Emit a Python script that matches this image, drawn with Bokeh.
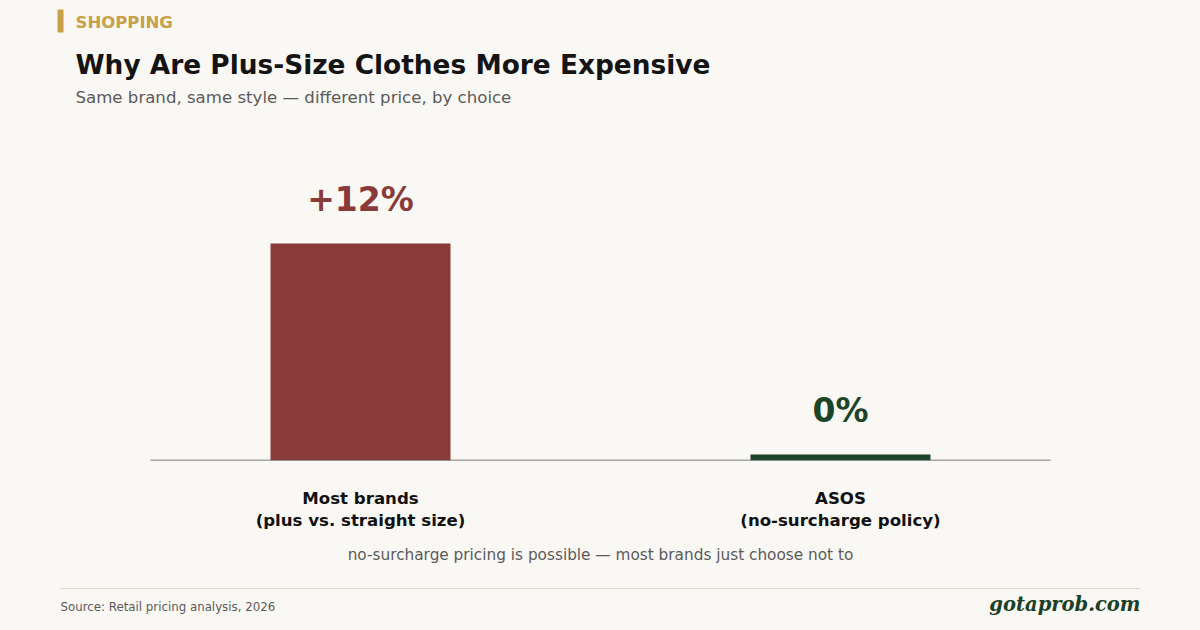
from bokeh.plotting import figure
from bokeh.layouts import column
from bokeh.models import Range1d, FixedTicker
from bokeh.core.properties import value
from bokeh.embed import file_html
from bokeh.resources import INLINE

# ---- data ----
categories = ["Most brands\n(plus vs. straight size)", "ASOS\n(no-surcharge policy)"]
surcharge_pct = [12, 0]
value_labels = ["+12%", "0%"]
bar_colors = ["#8b3a3a", "#1c4428"]
MIN_VISIBLE = 0.33  # tiny stub so a 0% bar is still visible

BG = "#faf8f4"
FONT = value("DejaVu Sans")
W = 1200


def blank(height):
    f = figure(width=W, height=height, output_backend="svg", toolbar_location=None,
               x_range=Range1d(0, W), y_range=Range1d(height, 0),
               x_axis_type=None, y_axis_type=None, min_border=0)
    f.background_fill_color = BG
    f.border_fill_color = BG
    f.outline_line_color = None
    f.xgrid.visible = False
    f.ygrid.visible = False
    return f


def txt(f, s, x, y, size, color, style="normal", align="left", font=FONT):
    f.text(x=[x], y=[y], text=[s], text_font=font, text_font_size=size,
           text_color=color, text_font_style=style, text_align=align,
           text_baseline="middle")


# ---- header ----
header = blank(130)
header.quad(left=[57], right=[63], top=[9], bottom=[32], color="#c9a04a", line_color=None)
txt(header, "SHOPPING", 75, 22, "16.5px", "#c9a04a", "bold")
txt(header, "Why Are Plus-Size Clothes More Expensive", 75, 64, "26.4px", "#141414", "bold")
txt(header, "Same brand, same style \u2014 different price, by choice", 75, 97, "16.6px", "#5a5a5a")

# ---- chart ----
xs = list(range(len(categories)))
display = [max(v, MIN_VISIBLE) for v in surcharge_pct]
X0, X1 = -0.4375, 1.4375  # extent of the baseline

p = figure(width=W, height=410, output_backend="svg", toolbar_location=None,
           x_range=Range1d(-0.75, 1.75), y_range=Range1d(0, 17.7),
           y_axis_type=None, min_border_left=0, min_border_right=0,
           min_border_top=10, min_border_bottom=80)
p.background_fill_color = BG
p.border_fill_color = BG
p.outline_line_color = None
p.xgrid.visible = False
p.ygrid.visible = False

p.vbar(x=xs, top=display, bottom=0, width=0.375, color=bar_colors, line_color=None)
p.segment(x0=[X0], x1=[X1], y0=[0], y1=[0], line_color="#555555", line_width=1.5)
p.text(x=xs, y=display, text=value_labels, text_color=bar_colors,
       text_align="center", text_baseline="alphabetic", y_offset=-44,
       text_font_size="33px", text_font_style="bold", text_font=FONT)

ax = p.xaxis[0]
ax.ticker = FixedTicker(ticks=xs)
ax.major_label_overrides = {i: c for i, c in zip(xs, categories)}
ax.major_tick_line_color = None
ax.minor_tick_line_color = None
ax.axis_line_color = None
ax.major_label_standoff = 22
ax.major_label_text_font = "DejaVu Sans"
ax.major_label_text_font_size = "16.6px"
ax.major_label_text_font_style = "bold"
ax.major_label_text_color = "#111111"

# ---- footer ----
footer = blank(90)
txt(footer, "no-surcharge pricing is possible \u2014 most brands just choose not to",
    600, 14, "15.3px", "#5a5a5a", align="center")
footer.quad(left=[60], right=[1140], top=[47.5], bottom=[48.5], color="#ddd5c5", line_color=None)
txt(footer, "Source: Retail pricing analysis, 2026", 60, 66, "11.8px", "#5a5a5a")
txt(footer, "gotaprob.com", 1140, 64, "19.5px", "#1b4027", "bold italic", "right",
    value("DejaVu Serif"))

layout = column(header, p, footer, spacing=0)
layout.background = BG

html = file_html(layout, INLINE)
html = html.replace("<body>", '<body style="background:%s">' % BG, 1)
open("out.html", "w").write(html)
